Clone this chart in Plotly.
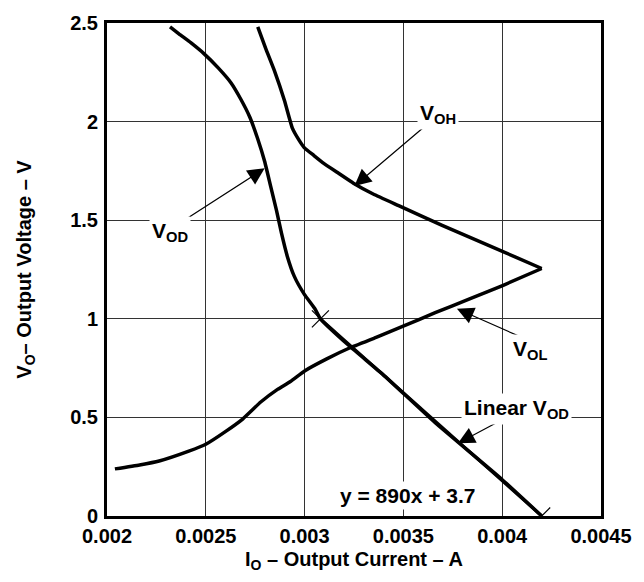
import plotly.graph_objects as go

# ---- data ----
voh_x = [0.002763, 0.002803, 0.002848, 0.002898, 0.002938, 0.002968, 0.002998, 0.003047, 0.003097,
         0.003172, 0.003247, 0.003347, 0.003476, 0.003696, 0.00396, 0.0042]
voh_y = [2.480, 2.371, 2.256, 2.107, 1.967, 1.912, 1.868, 1.828, 1.788,
         1.738, 1.688, 1.633, 1.574, 1.474, 1.360, 1.255]

vol_x = [0.00204, 0.002165, 0.002264, 0.002414, 0.0025, 0.002599, 0.002688, 0.002778, 0.002863,
         0.002928, 0.003002, 0.003112, 0.003227, 0.003362, 0.003496, 0.003661, 0.003835, 0.004005, 0.0042]
vol_y = [0.239, 0.259, 0.279, 0.329, 0.364, 0.428, 0.493, 0.578, 0.642,
         0.682, 0.737, 0.797, 0.852, 0.906, 0.961, 1.031, 1.101, 1.170, 1.255]

vod_x = [0.002319, 0.002364, 0.002424, 0.002489, 0.002564, 0.002628, 0.002678, 0.002723, 0.002763,
         0.002798, 0.002828, 0.002858, 0.002883, 0.002913, 0.002948, 0.002998, 0.003052, 0.00308,
         0.003227, 0.003397, 0.003661, 0.003995, 0.0042]
vod_y = [2.480, 2.445, 2.400, 2.346, 2.271, 2.196, 2.112, 2.022, 1.912,
         1.798, 1.673, 1.549, 1.434, 1.315, 1.215, 1.125, 1.051, 1.0,
         0.862, 0.717, 0.473, 0.189, 0.0]

lin_x = [0.00308, 0.0042]
lin_y = [1.0, 0.0]

x_ticks = [0.002, 0.0025, 0.003, 0.0035, 0.004, 0.0045]
x_labels = ["0.002", "0.0025", "0.003", "0.0035", "0.004", "0.0045"]
y_ticks = [0, 0.5, 1, 1.5, 2, 2.5]
y_labels = ["0", "0.5", "1", "1.5", "2", "2.5"]

FONT = "Liberation Sans, Arial, sans-serif"
LW = 3.5

fig = go.Figure()
for xs, ys in ((voh_x, voh_y), (vol_x, vol_y), (vod_x, vod_y)):
    fig.add_trace(go.Scatter(x=xs, y=ys, mode="lines",
                             line=dict(color="black", width=LW, shape="spline", smoothing=0.4)))
fig.add_trace(go.Scatter(x=lin_x, y=lin_y, mode="lines",
                         line=dict(color="black", width=3)))
fig.add_trace(go.Scatter(x=lin_x, y=lin_y, mode="markers",
                         marker=dict(symbol="x-thin", size=17,
                                     line=dict(color="black", width=1.2))))

def label(x, y, text):
    fig.add_annotation(x=x, y=y, xref="x", yref="y", text=text, showarrow=False,
                       bgcolor="white", borderpad=2,
                       font=dict(family=FONT, size=21, color="black", weight="bold"))

def arrow(x, y, ax, ay):
    fig.add_annotation(x=x, y=y, ax=ax, ay=ay, xref="x", yref="y", axref="x", ayref="y",
                       text="", showarrow=True, arrowhead=2, arrowsize=2.8,
                       arrowwidth=1.2, arrowcolor="black")

arrow(0.003252, 1.673, 0.003621, 1.987)
arrow(0.002798, 1.763, 0.002389, 1.499)
arrow(0.003771, 1.051, 0.004110, 0.901)
arrow(0.003776, 0.369, 0.004000, 0.488)

label(0.003676, 2.037, "V<sub>OH</sub>")
label(0.002319, 1.44, "V<sub>OD</sub>")
label(0.00414, 0.842, "V<sub>OL</sub>")
label(0.00407, 0.543, "Linear V<sub>OD</sub>")
label(0.003521, 0.105, "y = 890x + 3.7")

axis_common = dict(showgrid=True, gridcolor="#333333", gridwidth=1,
                   showline=True, mirror=True, linecolor="black", linewidth=3,
                   zeroline=False, ticks="",
                   tickfont=dict(family=FONT, size=20, color="black", weight="bold"))

fig.update_xaxes(range=[0.002, 0.0045], tickvals=x_ticks, ticktext=x_labels,
                 ticklabelstandoff=0,
                 title=dict(text="I<sub>O</sub> – Output Current – A", standoff=6,
                            font=dict(family=FONT, size=20, color="black", weight="bold")),
                 **axis_common)
fig.update_yaxes(range=[0, 2.5], tickvals=y_ticks, ticktext=y_labels,
                 ticklabelstandoff=2,
                 title=dict(text="V<sub>O</sub>– Output Voltage – V", standoff=34,
                            font=dict(family=FONT, size=20, color="black", weight="bold")),
                 **axis_common)

fig.update_layout(width=644, height=582, showlegend=False,
                  margin=dict(l=107, r=36, t=14, b=66),
                  plot_bgcolor="white", paper_bgcolor="white")

fig.write_html("out.html")
